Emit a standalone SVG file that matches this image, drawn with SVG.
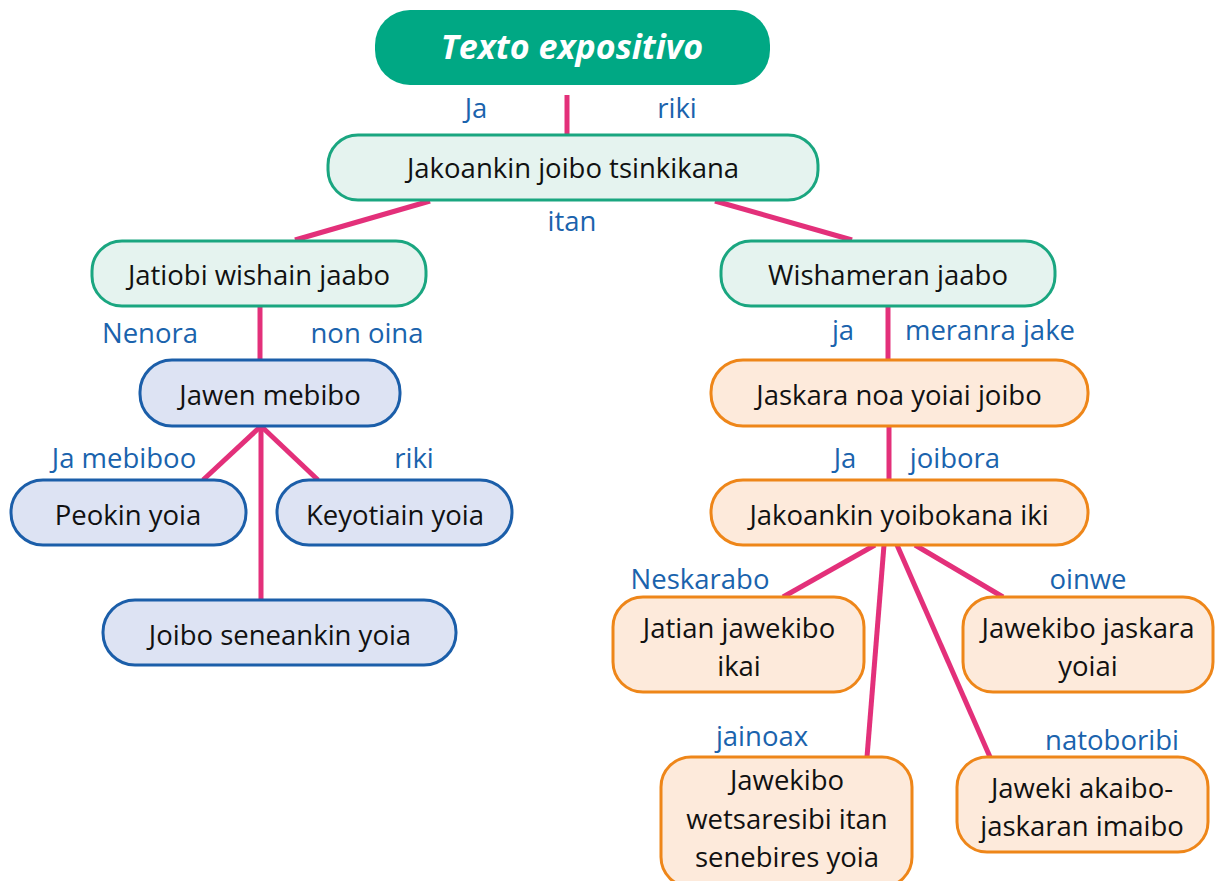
<svg xmlns="http://www.w3.org/2000/svg" width="1221" height="881" viewBox="0 0 1221 881">
<style>
text{font-family:"Open Sans","Noto Sans","Liberation Sans",sans-serif;font-size:27.5px;text-anchor:middle}
.t{fill:#111}
.l{fill:#1a63ad}
.g{fill:#e5f3ef;stroke:#1aa680;stroke-width:3}
.b{fill:#dde3f3;stroke:#1b5ea9;stroke-width:3}
.o{fill:#fdeadb;stroke:#ee8619;stroke-width:3}
.c line{stroke:#e3307a;stroke-width:5;stroke-linecap:butt}
</style>
<rect width="1221" height="881" fill="#fff"/>
<g class="c" id="connectors">
<line x1="567" y1="95" x2="567" y2="134"/>
<line x1="430" y1="201" x2="295" y2="240"/>
<line x1="715" y1="201" x2="852" y2="240"/>
<line x1="260" y1="307" x2="260" y2="359"/>
<line x1="260" y1="427" x2="203" y2="480"/>
<line x1="262" y1="427" x2="318" y2="480"/>
<line x1="261" y1="427" x2="261" y2="600"/>
<line x1="888" y1="307" x2="888" y2="360"/>
<line x1="889" y1="427" x2="889" y2="480"/>
<line x1="875" y1="545" x2="783" y2="597"/>
<line x1="884" y1="545" x2="867" y2="757"/>
<line x1="897" y1="545" x2="990" y2="757"/>
<line x1="915" y1="545" x2="1003" y2="597"/>
</g>
<g id="labels">
<text class="l" x="476" y="118">Ja</text>
<text class="l" x="677" y="118">riki</text>
<text class="l" x="572" y="231">itan</text>
<text class="l" x="150" y="343">Nenora</text>
<text class="l" x="367" y="343">non oina</text>
<text class="l" x="124" y="468">Ja mebiboo</text>
<text class="l" x="414" y="468">riki</text>
<text class="l" x="843" y="340">ja</text>
<text class="l" x="990" y="340">meranra jake</text>
<text class="l" x="845" y="468">Ja</text>
<text class="l" x="955" y="468">joibora</text>
<text class="l" x="700" y="589">Neskarabo</text>
<text class="l" x="1088" y="589">oinwe</text>
<text class="l" x="762" y="746">jainoax</text>
<text class="l" x="1112" y="750">natoboribi</text>
</g>
<g id="n-title">
<rect x="375" y="10" width="395" height="75" rx="35" fill="#00a884"/>
<text x="572" y="59" fill="#fff" style="font-size:34px;font-weight:bold;font-style:italic">Texto expositivo</text>
</g>
<g id="n-jakoankin">
<rect class="g" x="328" y="135" width="490" height="65" rx="30"/>
<text class="t" x="573" y="178">Jakoankin joibo tsinkikana</text>
</g>
<g id="n-jatiobi">
<rect class="g" x="92" y="241" width="334" height="65" rx="30"/>
<text class="t" x="259" y="285">Jatiobi wishain jaabo</text>
</g>
<g id="n-wishameran">
<rect class="g" x="721" y="241" width="334" height="65" rx="30"/>
<text class="t" x="888" y="285">Wishameran jaabo</text>
</g>
<g id="n-jawen">
<rect class="b" x="140" y="360" width="260" height="66" rx="32"/>
<text class="t" x="270" y="405">Jawen mebibo</text>
</g>
<g id="n-peokin">
<rect class="b" x="11" y="480" width="235" height="65" rx="32"/>
<text class="t" x="128" y="525">Peokin yoia</text>
</g>
<g id="n-keyotiain">
<rect class="b" x="277" y="480" width="235" height="65" rx="32"/>
<text class="t" x="395" y="525">Keyotiain yoia</text>
</g>
<g id="n-joibo">
<rect class="b" x="103" y="600" width="353" height="65" rx="32"/>
<text class="t" x="280" y="645">Joibo seneankin yoia</text>
</g>
<g id="n-jaskara">
<rect class="o" x="711" y="360" width="377" height="66" rx="32"/>
<text class="t" x="899" y="405">Jaskara noa yoiai joibo</text>
</g>
<g id="n-yoibokana">
<rect class="o" x="711" y="480" width="377" height="65" rx="32"/>
<text class="t" x="899" y="525">Jakoankin yoibokana iki</text>
</g>
<g id="n-jatian">
<rect class="o" x="613" y="597" width="251" height="95" rx="30"/>
<text class="t" x="739" y="638">Jatian jawekibo</text>
<text class="t" x="739" y="676">ikai</text>
</g>
<g id="n-jawekibo-jaskara">
<rect class="o" x="963" y="597" width="250" height="95" rx="30"/>
<text class="t" x="1088" y="638">Jawekibo jaskara</text>
<text class="t" x="1088" y="676">yoiai</text>
</g>
<g id="n-wetsaresibi">
<rect class="o" x="661" y="757" width="251" height="130" rx="30"/>
<text class="t" x="787" y="790">Jawekibo</text>
<text class="t" x="787" y="829">wetsaresibi itan</text>
<text class="t" x="787" y="867">senebires yoia</text>
</g>
<g id="n-akaibo">
<rect class="o" x="957" y="757" width="251" height="95" rx="30"/>
<text class="t" x="1082" y="798">Jaweki akaibo-</text>
<text class="t" x="1082" y="836">jaskaran imaibo</text>
</g>
</svg>
